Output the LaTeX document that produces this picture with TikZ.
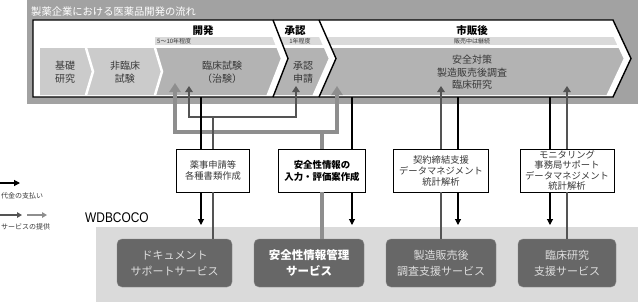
\documentclass[tikz,border=0pt]{standalone}
\usepackage{fontspec}
\setmainfont{Noto Sans CJK JP}
\newfontfamily\latinf[FakeStretch=0.85]{Liberation Sans}
\usepackage{tikz}
\usetikzlibrary{arrows.meta,calc}
\definecolor{outerg}{HTML}{A2A2A2}
\definecolor{chevl}{HTML}{CBCBCB}
\definecolor{chevd}{HTML}{B3B3B3}
\definecolor{durg}{HTML}{DADADA}
\definecolor{txtg}{HTML}{383838}
\definecolor{wdbg}{HTML}{DADADA}
\definecolor{svfill}{HTML}{676767}
\definecolor{svedge}{HTML}{8A8A8A}
\definecolor{svtxt}{HTML}{DEDEDE}
\definecolor{svcdark}{HTML}{545454}
\definecolor{svclight}{HTML}{8E8E8E}

\begin{document}
\begin{tikzpicture}[x=1pt, y=-1pt,
  chev/.style={align=center, text=txtg, font=\fontsize{10}{13}\selectfont, inner sep=0pt},
  hdr/.style={font=\bfseries\fontsize{10.5}{12}\selectfont, inner sep=0pt},
  dur/.style={font=\fontsize{6}{7}\selectfont, inner sep=0pt, text=txtg},
  task/.style={draw, line width=0.6pt, fill=white, align=center, minimum height=43pt, inner sep=1pt, text=txtg, font=\fontsize{9.3}{11}\selectfont},
  svbox/.style={draw=svedge, fill=svfill, rounded corners=5pt, align=center, minimum height=48pt, inner sep=1pt, text=svtxt, font=\fontsize{11}{16}\selectfont},
  payline/.style={line width=1.1pt},
  pay/.style={payline, -{Triangle[length=6pt,width=6pt]}},
  svc/.style={draw=svcdark, line width=2.2pt},
  thk/.style={draw=svclight, line width=4.4pt},
  svctip/.style={svc, -{Triangle[length=6pt,width=7.5pt]}},
  thktip/.style={thk, -{Triangle[length=9pt,width=11pt]}},
  sep/.style={line width=1.4pt, line join=miter}]
\useasboundingbox (0,0) rectangle (638,301);
% flow band
\fill[outerg] (27,0) rectangle (638,104);
\node[anchor=west, inner sep=0pt, text=white, font=\fontsize{10.3}{12}\selectfont] (ttl) at (31,12) {製薬企業における医薬品開発の流れ};
\fill[white] (33,20) -- (613,20) -- (631,58.5) -- (613,97) -- (33,97) -- cycle;
\begin{scope}
\clip (33,20) -- (613,20) -- (631,58.5) -- (613,97) -- (33,97) -- cycle;
\fill[durg] (155,37) rectangle (640,45);
\fill[chevl] (40,48) -- (155,48) -- (162,71.5) -- (155,95) -- (40,95) -- cycle;
\fill[chevd] (155,48) -- (162,71.5) -- (155,95) -- (640,95) -- (640,48) -- cycle;
\draw[white, line width=2.5pt] (86,48) -- (93,71.5) -- (86,95);
\draw[white, line width=2.5pt] (155,48) -- (162,71.5) -- (155,95);
\foreach \sx/\tx in {273/288, 319/336, 613/631}
  \draw[white, line width=7pt] (\sx-3.5,20) -- (\tx-3.5,58.5) -- (\sx-3.5,97);
\end{scope}
\draw[sep] (33,20) -- (613,20) -- (631,58.5) -- (613,97) -- (33,97) -- cycle;
\draw[sep] (273,20) -- (288,58.5) -- (273,97);
\draw[sep] (319,20) -- (336,58.5) -- (319,97);
% phase labels
\node[hdr] (kaihatsu) at (203,31) {開発};
\node[hdr] (shonin) at (295,31) {承認};
\node[hdr] (shihan) at (472,31) {市販後};
\node[dur, anchor=west] (durK) at (157,41) {5～10年程度};
\node[dur] (durS) at (300,41) {1年程度};
\node[dur] (durH) at (472,41) {販売中は継続};
\node[chev] (kiso) at (65,72.5) {基礎\\研究};
\node[chev] (hirin) at (125,72.5) {非臨床\\試験};
\node[chev] (rinsho) at (222,72.5) {臨床試験\\（治験）};
\node[chev] (shinsei) at (303,72.5) {承認\\申請};
\node[chev, font=\fontsize{10}{12.5}\selectfont] (anzen) at (472,72.5) {安全対策\\製造販売後調査\\臨床研究};
% arrow targets and payment sources
\coordinate (tipRa) at (175,83);
\coordinate (tipRb) at (189,86);
\coordinate (tipSh) at (296,86);
\coordinate (tipAa) at (337,86);
\coordinate (tipAb) at (441,86);
\coordinate (tipAc) at (567,86);
\coordinate (payA) at (201,97);
\coordinate (payB) at (352,97);
\coordinate (payC) at (458,97);
\coordinate (payD) at (550,97);
% task boxes
\node[task, minimum width=73pt] (bxA) at (213,170.5) {薬事申請等\\各種書類作成};
\node[task, minimum width=87pt, text=black, font=\bfseries\fontsize{9.4}{12}\selectfont] (bxB) at (322,170.5) {安全性情報の\\入力・評価案作成};
\node[task, minimum width=95pt] (bxC) at (441,170.5) {契約締結支援\\データマネジメント\\統計解析};
\node[task, minimum width=94pt, font=\fontsize{9.3}{10.5}\selectfont] (bxD) at (567,170.5) {モニタリング\\事務局サポート\\データマネジメント\\統計解析};
% WDBCOCO
\node[fill=wdbg, anchor=north west, minimum width=542pt, minimum height=76pt, inner sep=0pt] (wdb) at (96,227) {};
\node[anchor=base west, inner sep=0pt, font=\latinf\fontsize{14}{16}\selectfont] (wdbT) at (85,222) {WDBCOCO};
\node[svbox, minimum width=115pt] (sv1) at (174.5,263) {ドキュメント\\サポートサービス};
\node[svbox, minimum width=110pt, text=white, font=\bfseries\fontsize{11.5}{16}\selectfont] (sv2) at (309,263) {安全性情報管理\\サービス};
\node[svbox, minimum width=110pt] (sv3) at (441,263) {製造販売後\\調査支援サービス};
\node[svbox, minimum width=98pt] (sv4) at (567,263) {臨床研究\\支援サービス};
% service flows
\coordinate (jB) at ($(bxB.north)+(0,-17)$);
\draw[thk] (sv2.north -| bxB.south) -- (bxB.south);
\draw[thk] (bxB.north) -- (jB);
\draw[thktip] (jB) -| (tipRa);
\draw[thktip] (jB) -| (tipAa);
\coordinate (jA) at ($(bxA.north)+(0,-32)$);
\draw[svc] (sv1.north -| bxA.south) -- (bxA.south);
\draw[svc] (bxA.north) -- (jA);
\draw[svctip] (jA) -| (tipRb);
\draw[svctip] (jA) -| (tipSh);
\draw[svc] (sv3.north) -- (bxC.south);
\draw[svctip] (bxC.north) -- (tipAb);
\draw[svc] (sv4.north) -- (bxD.south);
\draw[svctip] (bxD.north) -- (tipAc);
% payments
\foreach \p/\b in {payA/bxA, payB/bxB, payC/bxC, payD/bxD} {
  \draw[payline] (\p) -- (\p |- \b.north);
  \draw[pay, shorten >=2pt] (\p |- \b.south) -- (\p |- wdb.north);
}
% legend
\coordinate (lgPay) at (0,183);
\draw[pay] (lgPay) -- ++(20,0);
\node[anchor=west, inner sep=0pt, text=txtg, font=\fontsize{7}{8}\selectfont] (lgPayT) at (1,196) {代金の支払い};
\coordinate (lgSvc) at (0,215);
\draw[line width=1.3pt, svcdark, -{Triangle[length=5pt,width=5.5pt]}] (lgSvc) -- ++(22,0);
\draw[line width=1.3pt, svclight, -{Triangle[length=5pt,width=5.5pt]}] ($(lgSvc)+(27,0)$) -- ++(20,0);
\node[anchor=west, inner sep=0pt, text=txtg, font=\fontsize{7}{8}\selectfont] (lgSvcT) at (1,227) {サービスの提供};
\end{tikzpicture}
\end{document}
